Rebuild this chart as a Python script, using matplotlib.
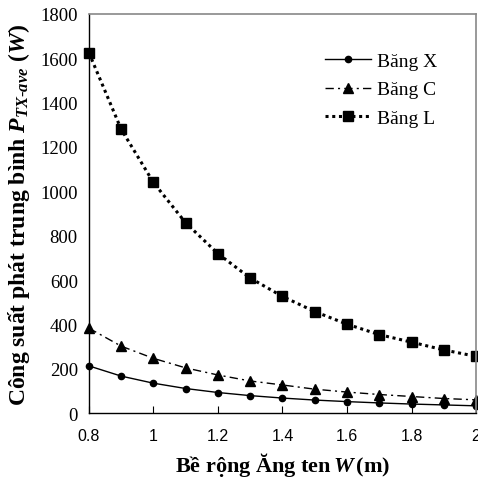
import matplotlib.pyplot as plt

plt.rcParams['font.family'] = ['Liberation Serif', 'DejaVu Serif']
plt.rcParams['mathtext.fontset'] = 'custom'
plt.rcParams['mathtext.rm'] = 'Liberation Serif:bold'
plt.rcParams['mathtext.it'] = 'Liberation Serif:italic:bold'
plt.rcParams['mathtext.bf'] = 'Liberation Serif:bold'

# do rong anten W (m)
width = [0.8, 0.9, 1.0, 1.1, 1.2, 1.3, 1.4, 1.5, 1.6, 1.7, 1.8, 1.9, 2.0]
# cong suat phat trung binh (W)
band_x = [213, 167, 135, 111, 93, 79, 68, 59, 52, 46, 41, 37, 33]
band_c = [383, 302, 247, 204, 172, 145, 127, 108, 95, 84, 75, 66, 60]
band_l = [1625, 1280, 1040, 858, 719, 609, 526, 458, 401, 354, 320, 285, 256]

fig = plt.figure(figsize=(4.78, 4.81), dpi=100)
ax = fig.add_axes([0.186, 0.139, 0.81, 0.830])

ax.plot(width, band_x, color='black', lw=1.0, ls='-', marker='o', ms=4.5,
        label='Băng X', clip_on=False)
ax.plot(width, band_c, color='black', lw=1.0, ls=(0, (6, 3, 1.5, 3)), marker='^', ms=7,
        label='Băng C', clip_on=False)
ax.plot(width, band_l, color='black', lw=2.2, ls=(0, (1, 1.2)), marker='s', ms=6.5,
        label='Băng L', clip_on=False)

ax.set_xlim(0.8, 2.0)
ax.set_ylim(0, 1800)
ax.set_xticks([0.8, 1.0, 1.2, 1.4, 1.6, 1.8, 2.0])
ax.set_xticklabels(['0.8', '1', '1.2', '1.4', '1.6', '1.8', '2'],
                   fontfamily='Liberation Sans', fontsize=11.5)
ax.set_yticks(range(0, 1801, 200))
ax.tick_params(axis='y', length=0, labelsize=13.5, pad=8)
ax.tick_params(axis='x', direction='in', length=5, width=0.8, pad=11)

for side in ['top', 'right']:
    ax.spines[side].set_color('#888888')
    ax.spines[side].set_linewidth(1.2)
for side in ['left', 'bottom']:
    ax.spines[side].set_linewidth(1.0)

ax.set_xlabel('Bề rộng Ăng ten$\\,W\\,$(m)', fontsize=16, fontweight='bold', labelpad=5)
ax.set_ylabel(r'Công suất phát trung bình $P_{TX\text{-}ave}$ ($W$)',
              fontsize=17, fontweight='bold', labelpad=6)

ax.legend(loc='upper right', bbox_to_anchor=(0.945, 0.947), frameon=False, fontsize=14,
          handlelength=2.4, handletextpad=0.3, labelspacing=0.55)

fig.savefig('out.png', dpi=100)
